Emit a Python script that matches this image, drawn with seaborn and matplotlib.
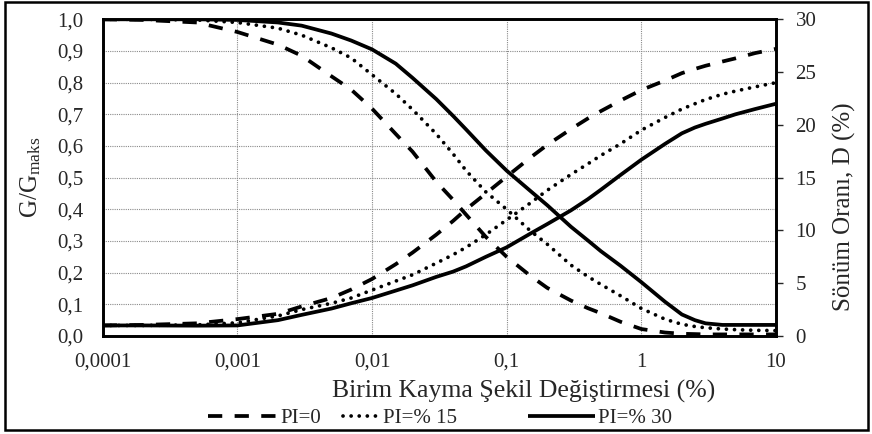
import matplotlib
matplotlib.use("Agg")
import matplotlib.pyplot as plt
from matplotlib.patches import Rectangle
from matplotlib.ticker import FixedLocator, NullLocator
import pandas as pd
import seaborn as sns

# Shear strain (%) and the corresponding modulus-reduction / damping values
strain = [0.0001, 0.0002, 0.0005, 0.001, 0.002, 0.003, 0.005, 0.007, 0.01,
          0.015, 0.02, 0.03, 0.04, 0.05, 0.07, 0.1, 0.15, 0.2, 0.3, 0.4,
          0.5, 0.7, 1, 1.5, 2, 2.5, 3, 4, 5, 7, 10]

g_pi0 = [1.0, 0.998, 0.99, 0.96, 0.92, 0.885, 0.82, 0.778, 0.718,
         0.638, 0.582, 0.487, 0.43, 0.383, 0.313, 0.25, 0.19, 0.152, 0.112, 0.088,
         0.072, 0.045, 0.022, 0.011, 0.007, 0.006, 0.005, 0.005, 0.005, 0.005, 0.005]
g_pi15 = [1.0, 1.0, 0.998, 0.99, 0.972, 0.95, 0.91, 0.878, 0.825,
          0.765, 0.715, 0.638, 0.575, 0.522, 0.455, 0.4, 0.332, 0.29, 0.224, 0.188,
          0.163, 0.127, 0.087, 0.053, 0.037, 0.03, 0.026, 0.022, 0.02, 0.018, 0.017]
g_pi30 = [1.0, 1.0, 1.0, 0.998, 0.99, 0.98, 0.955, 0.933, 0.905,
          0.86, 0.815, 0.748, 0.695, 0.652, 0.586, 0.522, 0.458, 0.413, 0.345, 0.302,
          0.268, 0.222, 0.17, 0.108, 0.068, 0.05, 0.04, 0.035, 0.035, 0.035, 0.035]

d_pi0 = [1.0, 1.05, 1.2, 1.6, 2.1, 2.8, 3.6, 4.4, 5.4,
         6.8, 7.9, 9.6, 10.9, 12.0, 13.5, 15.1, 16.9, 18.1, 19.6, 20.6,
         21.3, 22.3, 23.3, 24.2, 24.9, 25.3, 25.6, 26.0, 26.3, 26.8, 27.2]
d_pi15 = [1.0, 1.0, 1.05, 1.25, 1.9, 2.5, 3.1, 3.6, 4.35,
          5.2, 5.8, 6.9, 7.7, 8.4, 9.6, 11.0, 12.6, 13.8, 15.3, 16.3,
          17.1, 18.2, 19.5, 20.7, 21.5, 22.0, 22.4, 22.9, 23.2, 23.6, 24.0]
d_pi30 = [1.0, 1.0, 0.98, 1.0, 1.5, 2.0, 2.6, 3.1, 3.6,
          4.3, 4.8, 5.6, 6.1, 6.6, 7.5, 8.4, 9.7, 10.6, 11.9, 12.95,
          13.85, 15.25, 16.7, 18.2, 19.2, 19.75, 20.1, 20.6, 21.0, 21.5, 22.0]

series_labels = ["PI=0", "PI=% 15", "PI=% 30"]
x_ticks = [0.0001, 0.001, 0.01, 0.1, 1, 10]
x_tick_labels = ["0,0001", "0,001", "0,01", "0,1", "1", "10"]
g_ticks = [0.0, 0.1, 0.2, 0.3, 0.4, 0.5, 0.6, 0.7, 0.8, 0.9, 1.0]
g_tick_labels = ["0,0", "0,1", "0,2", "0,3", "0,4", "0,5", "0,6", "0,7", "0,8", "0,9", "1,0"]
d_ticks = [0, 5, 10, 15, 20, 25, 30]

sns.set_style("white")
plt.rcParams["font.family"] = ["Liberation Serif", "DejaVu Serif"]
plt.rcParams["mathtext.fontset"] = "custom"
plt.rcParams["mathtext.rm"] = "Liberation Serif"
plt.rcParams["mathtext.it"] = "Liberation Serif:italic"

df = pd.DataFrame({"strain": strain,
                   "g0": g_pi0, "g15": g_pi15, "g30": g_pi30,
                   "d0": d_pi0, "d15": d_pi15, "d30": d_pi30})

W, H = 872, 434
fig = plt.figure(figsize=(W / 100, H / 100), dpi=100)
ax = fig.add_axes([102.7 / W, (H - 336) / H, (776 - 102.7) / W, (336 - 19.3) / H])
ax.set_xscale("log")
ax2 = ax.twinx()

LW = 2.7
styles = [
    dict(linestyle=(0, (3.8, 3.3)), linewidth=LW, dash_capstyle="butt"),
    dict(linestyle=(0, (0.01, 2.15)), linewidth=LW, dash_capstyle="round"),
    dict(linestyle="-", linewidth=LW, solid_capstyle="butt"),
]

for col, st, lab in zip(["g0", "g15", "g30"], styles, series_labels):
    sns.lineplot(data=df, x="strain", y=col, ax=ax, color="black", label=lab,
                 legend=False, **st)
for col, st in zip(["d0", "d15", "d30"], styles):
    sns.lineplot(data=df, x="strain", y=col, ax=ax2, color="black",
                 legend=False, **st)

ax.set_xlim(0.0001, 10)
ax.set_ylim(0, 1.0)
ax2.set_ylim(0, 30)

ax.xaxis.set_major_locator(FixedLocator(x_ticks))
ax.set_xticklabels(x_tick_labels)
ax.xaxis.set_minor_locator(NullLocator())
ax.set_yticks(g_ticks)
ax.set_yticklabels(g_tick_labels)
ax2.set_yticks(d_ticks)
ax2.set_yticklabels([str(v) for v in d_ticks])

ax.tick_params(axis="x", length=0, labelsize=15, pad=12)
ax.tick_params(axis="y", length=0, labelsize=15, pad=14)
ax2.tick_params(axis="y", direction="out", length=5, width=1, labelsize=15, pad=9,
                right=True)

ax.grid(True, which="major", color="#8a8a8a", linestyle=(0, (1, 1)), linewidth=0.8)
ax.set_axisbelow(True)

for a in (ax, ax2):
    for sp in a.spines.values():
        sp.set_color("black")
        sp.set_linewidth(1.9)

ax.set_xlabel("Birim Kayma Şekil Değiştirmesi (%)", fontsize=18.5, labelpad=6)
ax.xaxis.label.set_x((524 - 102.7) / (776 - 102.7))
ax.set_ylabel("G/G$_{\\mathrm{maks}}$", fontsize=18, labelpad=10)
ax2.set_ylabel("Sönüm Oranı, D (%)", fontsize=18, labelpad=12)
ax2.yaxis.label.set_y((336 - 207) / (336 - 19.3))
ax2.set_xlabel("")

# Legend: one entry per series, laid out in a single row under the axis title
handles = ax.get_lines()[:3]
em = 15 * 100 / 72
legend_slots = [(208, 69), (343, 37), (528, 67)]
for h, lab, (x0, hl) in zip(handles, series_labels, legend_slots):
    fig.legend([h], [lab], loc="center left", bbox_to_anchor=(x0 / W, 1 - 418 / H),
               frameon=False, fontsize=15, handlelength=hl / em, handletextpad=3 / em,
               borderaxespad=0, borderpad=0)

fig.patches.append(Rectangle((5 / W, 4 / H), 863 / W, 428.5 / H,
                             transform=fig.transFigure, fill=False,
                             edgecolor="black", linewidth=1.8))

fig.savefig("out.png", dpi=100)
